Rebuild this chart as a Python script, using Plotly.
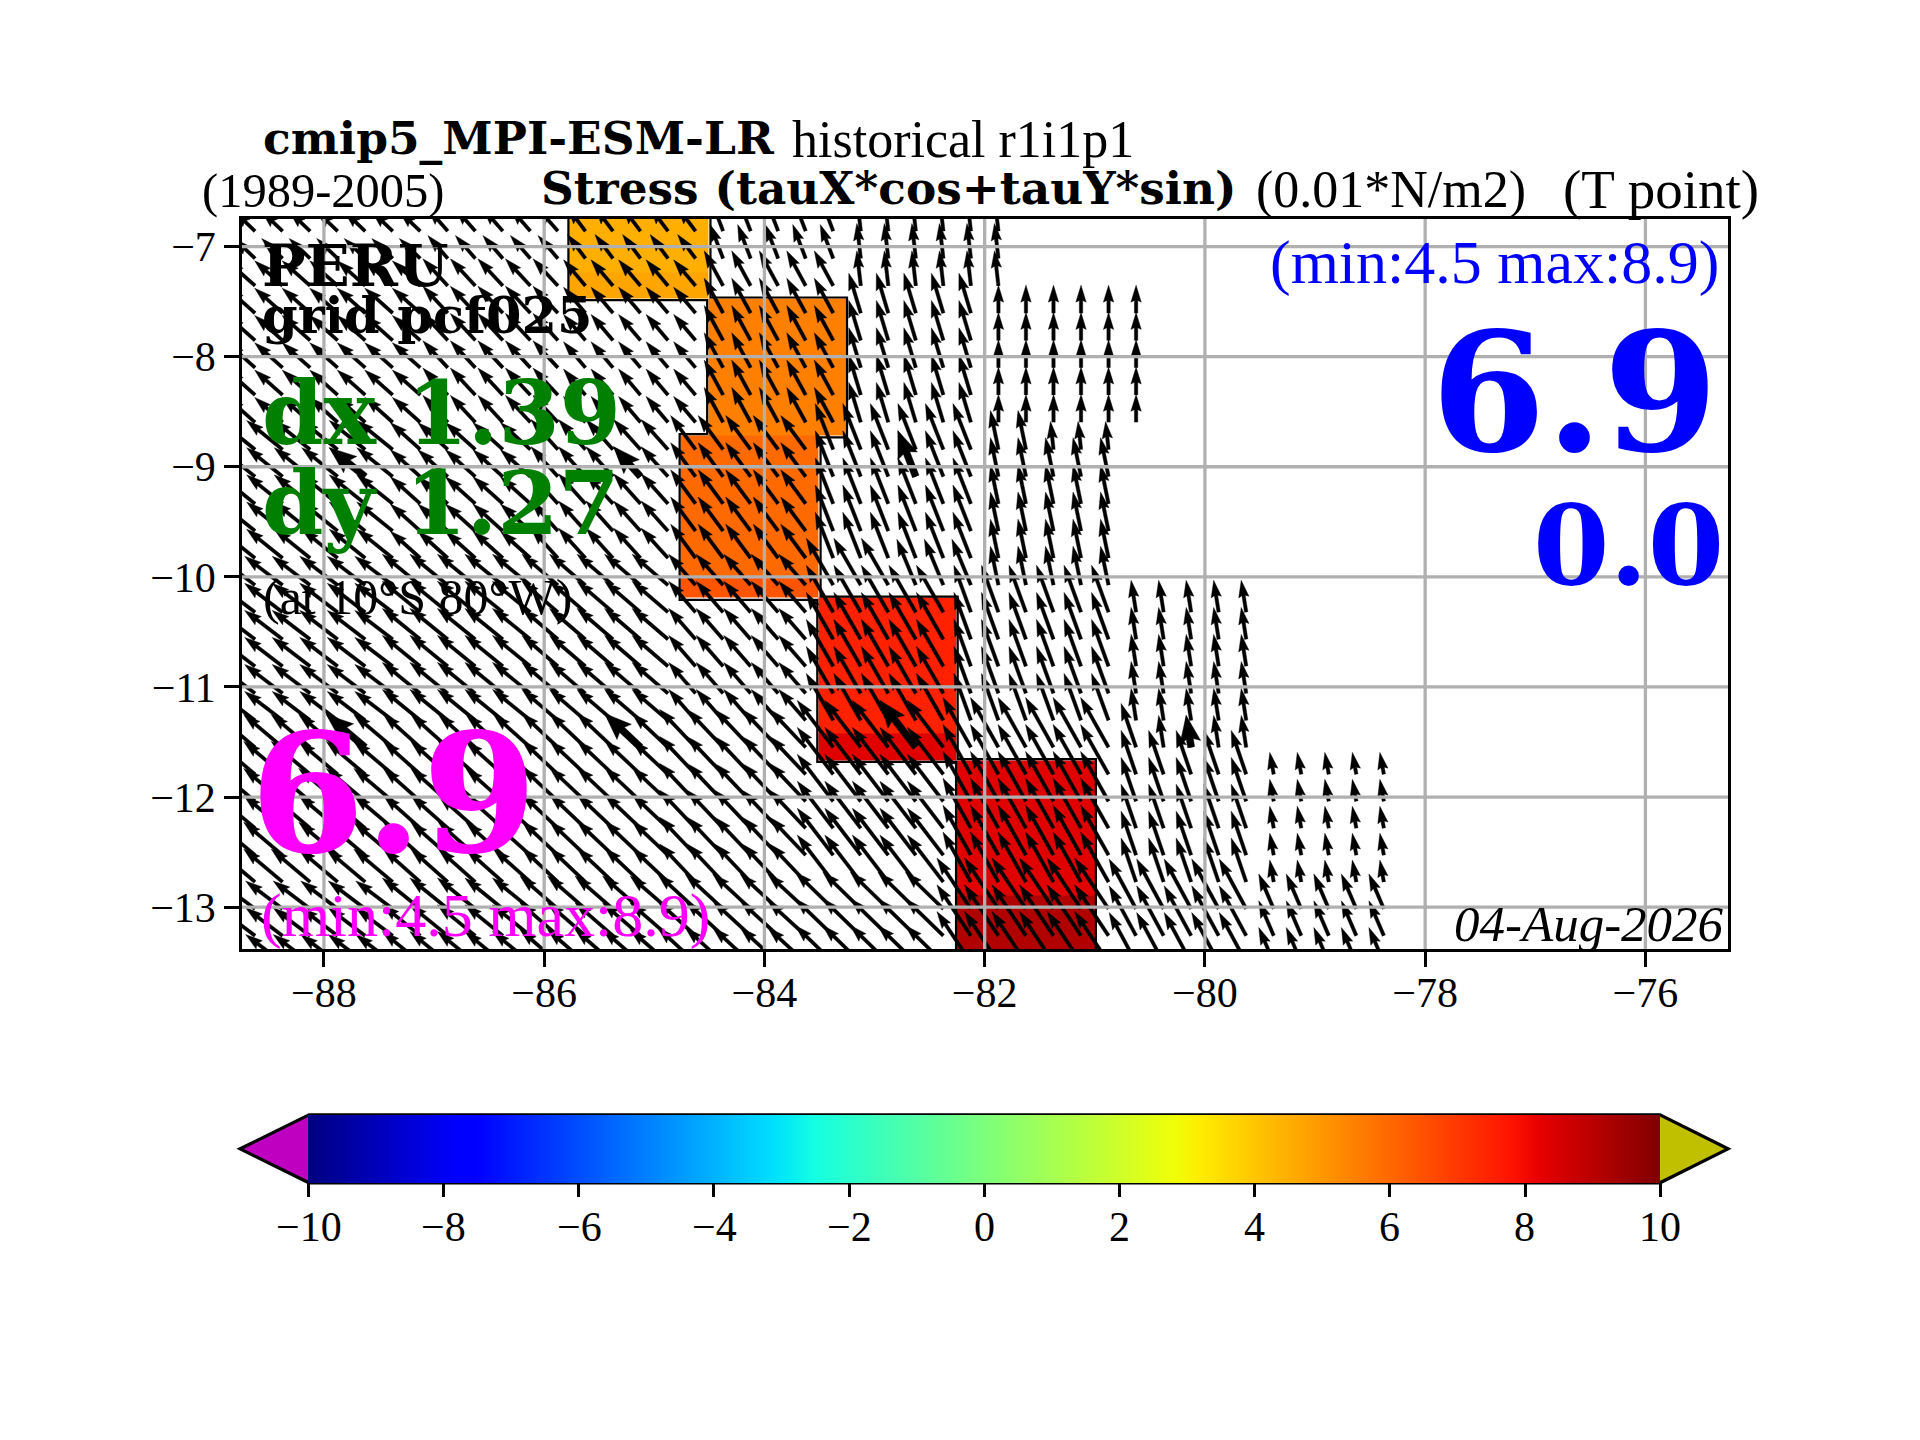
import plotly.graph_objects as go

# ---------- data ----------
tail_lons = [-88.625, -88.375, -88.125, -87.875, -87.625, -87.375, -87.125, -86.875, -86.625, -86.375,
             -86.125, -85.875, -85.625, -85.375, -85.125, -84.875, -84.625, -84.375, -84.125, -83.875,
             -83.625, -83.375, -83.125, -82.875, -82.625, -82.375, -82.125, -81.875, -81.625, -81.375,
             -81.125, -80.875, -80.625, -80.375, -80.125, -79.875, -79.625, -79.375, -79.125, -78.875,
             -78.625, -78.375]
tail_lats = [-13.503, -13.26, -13.016, -12.772, -12.528, -12.283, -12.039, -11.794, -11.549, -11.304,
             -11.059, -10.813, -10.568, -10.322, -10.076, -9.83, -9.584, -9.337, -9.09, -8.844,
             -8.597, -8.349, -8.101, -7.853, -7.605, -7.357, -7.109, -6.861]
last_col_in_row = [41, 41, 41, 41, 41, 41, 41, 41, 36, 36, 36, 36, 36, 36,
                   31, 31, 31, 31, 31, 31, 32, 32, 32, 32, 32, 27, 27, 27]
# (first row, last row, first col, last col, u, v) with v positive northward
vector_blocks = [
    (0, 2, 0, 5, -37, 28), (0, 2, 6, 10, -38, 31), (0, 2, 11, 15, -38, 33), (0, 2, 16, 20, -38, 35),
    (0, 2, 21, 25, -38, 37), (0, 2, 26, 31, -34, 51), (0, 2, 32, 36, -27, 50), (0, 2, 37, 41, -15, 35),
    (3, 8, 0, 5, -39, 33), (3, 8, 6, 10, -37, 33), (3, 8, 11, 15, -36, 34), (3, 8, 16, 20, -36, 38),
    (3, 8, 21, 25, -36, 47), (3, 8, 26, 31, -28, 50), (3, 8, 32, 36, -15, 44), (3, 8, 37, 41, -4, 22),
    (8, 8, 33, 36, -5, 32),
    (9, 14, 0, 5, -38, 29), (9, 14, 6, 10, -38, 31), (9, 14, 11, 15, -36, 31), (9, 14, 16, 20, -27, 31),
    (9, 14, 21, 25, -27, 47), (9, 14, 26, 31, -17, 47), (9, 14, 32, 36, -5, 32),
    (14, 14, 24, 26, -19, 46), (14, 14, 27, 31, -8, 39),
    (15, 19, 0, 5, -36, 29), (15, 19, 6, 10, -30, 27), (15, 19, 11, 15, -27, 30), (15, 19, 16, 20, -25, 34),
    (15, 19, 21, 26, -18, 46), (15, 19, 27, 31, -8, 39), (19, 19, 29, 31, -3, 28),
    (20, 25, 0, 6, -28, 25), (20, 25, 7, 11, -25, 27), (20, 25, 12, 16, -22, 26), (20, 25, 17, 21, -19, 35),
    (20, 25, 22, 26, -12, 40), (20, 25, 27, 32, 0, 28), (25, 25, 22, 27, -4, 35),
    (26, 27, 0, 6, -21, 20), (26, 27, 7, 11, -20, 23), (26, 27, 12, 16, -18, 24), (26, 27, 17, 21, -13, 34),
    (26, 27, 22, 27, -4, 35),
]
thick_rows = [8, 18]
thick_cols = [4, 14, 24, 34]

cell_lon_edges = [-85.78, -84.76, -84.51, -83.51, -83.25, -82.255, -80.99]
cell_lat_edges = [-13.45, -12.89, -11.665, -11.42, -10.19, -9.985, -8.715, -7.47, -7.236, -6.7]
cell_values = [
    [None, None, None, None, None, 9.16],
    [None, None, None, None, None, 8.34],
    [None, None, None, 8.34, 8.34, None],
    [None, None, None, 7.5, 7.5, None],
    [None, 6.4, 6.4, None, None, None],
    [None, 5.96, 5.96, None, None, None],
    [None, None, 5.5, 5.5, None, None],
    [4.7, 4.7, None, None, None, None],
    [4.5, 4.5, None, None, None, None],
]
outline_lons = [-85.78, -84.49, -84.49, -83.25, -83.25, -83.49, -83.49, -82.245, -82.245, -80.99, -80.99,
                -82.26, -82.26, -83.52, -83.52, -84.77, -84.77, -84.52, -84.52, -85.78, -85.78]
outline_lats = [-6.6, -6.6, -7.463, -7.463, -8.733, -8.733, -10.18, -10.18, -11.655, -11.655, -13.6,
                -13.6, -11.68, -11.68, -10.21, -10.21, -8.703, -8.703, -7.487, -7.487, -6.6]

x_ticks = [-88, -86, -84, -82, -80, -78, -76]
y_ticks = [-13, -12, -11, -10, -9, -8, -7]
x_range = [-88.744, -75.25]
y_range = [-13.38, -6.75]
cbar_ticks = [-10, -8, -6, -4, -2, 0, 2, 4, 6, 8, 10]
jet_scale = [[0, "rgb(0,0,128)"], [0.11, "rgb(0,0,255)"], [0.125, "rgb(0,0,255)"], [0.34, "rgb(0,219,255)"],
             [0.35, "rgb(0,230,247)"], [0.375, "rgb(21,255,226)"], [0.64, "rgb(239,255,8)"],
             [0.66, "rgb(255,236,0)"], [0.89, "rgb(255,19,0)"], [0.91, "rgb(232,0,0)"], [1, "rgb(128,0,0)"]]

FONT = "Liberation Serif"
BOLD = "DejaVu Serif"
L, R, T, B = 241.5, 1728, 218.5, 949
PAGE = 8  # the page body adds this margin
PX_PER_DEG = 110.2


def arrow_polygon(lon, lat, u, v, w, hw, hl, na):
    size = (u * u + v * v) ** 0.5
    dx, dy = u / size, v / size
    nx, ny = -dy, dx
    prof = [(0, w / 2), (size - na, w / 2), (size - hl, hw / 2), (size, 0),
            (size - hl, -hw / 2), (size - na, -w / 2), (0, -w / 2)]
    xs, ys = [], []
    for a, b in prof:
        xs.append(lon + (a * dx + b * nx) / PX_PER_DEG)
        ys.append(lat + (a * dy + b * ny) / PX_PER_DEG)
    return xs + [None], ys + [None]


vectors = {}
for r0, r1, c0, c1, u, v in vector_blocks:
    for r in range(r0, r1 + 1):
        for c in range(c0, c1 + 1):
            vectors[(r, c)] = (u, v)

ax, ay, tx, ty = [], [], [], []
for r, lat in enumerate(tail_lats):
    for c, lon in enumerate(tail_lons):
        if c > last_col_in_row[r] or (r, c) not in vectors:
            continue
        u, v = vectors[(r, c)]
        xs, ys = arrow_polygon(lon, lat, u, v, 3.4, 10.4, 17, 15.3)
        ax += xs
        ay += ys
        if r in thick_rows and c in thick_cols:
            xs, ys = arrow_polygon(lon, lat, u, v, 7, 21, 27, 24)
            tx += xs
            ty += ys

fig = go.Figure()


def px_x(p):
    return (p - L) / (R - L)


def px_y(p):
    return (B - p) / (B - T)


fig.add_trace(go.Heatmap(
    x=cell_lon_edges, y=cell_lat_edges, z=cell_values, zmin=-10, zmax=10, colorscale=jet_scale,
    hoverinfo="skip", showscale=True,
    colorbar=dict(orientation="h", lenmode="pixels", len=1352, thicknessmode="pixels", thickness=67.7,
                  x=px_x(984), xanchor="center", y=px_y(1115), yanchor="top",
                  xpad=0, ypad=0, outlinewidth=0, borderwidth=0,
                  tickmode="array", tickvals=cbar_ticks, showticklabels=False,
                  ticks="outside", ticklen=14.6, tickwidth=3.3, tickcolor="black"),
))
fig.add_trace(go.Scatter(x=outline_lons, y=outline_lats, mode="lines",
                         line=dict(color="black", width=2.2), hoverinfo="skip"))
fig.add_trace(go.Scatter(x=ax, y=ay, mode="lines", fill="toself", fillcolor="black",
                         line=dict(color="black", width=0.4), hoverinfo="skip"))
fig.add_trace(go.Scatter(x=tx, y=ty, mode="lines", fill="toself", fillcolor="black",
                         line=dict(color="black", width=0.4), hoverinfo="skip"))
gx, gy = [], []
for t in x_ticks:
    gx += [t, t, None]
    gy += [y_range[0], y_range[1], None]
for t in y_ticks:
    gx += [x_range[0], x_range[1], None]
    gy += [t, t, None]
fig.add_trace(go.Scatter(x=gx, y=gy, mode="lines", line=dict(color="#b0b0b0", width=3.3), hoverinfo="skip"))

texts = [
    ("<b>cmip5_MPI-ESM-LR</b>", 262, 155, "left", 45.5, "black", BOLD),
    ("historical r1i1p1", 791, 153, "left", 52, "black", FONT),
    ("(1989-2005)", 200, 204, "left", 48.5, "black", FONT),
    ("<b>Stress (tauX*cos+tauY*sin)</b>", 540, 205, "left", 45.4, "black", BOLD),
    ("(0.01*N/m2)", 1255, 204, "left", 52, "black", FONT),
    ("(T point)", 1562, 204, "left", 55, "black", FONT),
    ("<b>PERU</b>", 261, 287, "left", 58, "black", BOLD),
    ("<b>grid pcf025</b>", 261, 334, "left", 51, "black", BOLD),
    ("<b>dx 1.39</b>", 261, 445, "left", 88, "#008000", BOLD),
    ("<b>dy 1.27</b>", 261, 535, "left", 88, "#008000", BOLD),
    ("(at 10\u00b0S 80\u00b0W)", 262, 611, "left", 50, "black", FONT),
    ("<b>6.9</b>", 249, 853, "left", 165, "#ff00ff", BOLD),
    ("(min:4.5 max:8.9)", 260, 933, "left", 62, "#ff00ff", FONT),
    ("(min:4.5 max:8.9)", 1720, 279, "right", 62, "#0000ff", FONT),
    ("<b>6.9</b>", 1719, 452, "right", 165, "#0000ff", BOLD),
    ("<b>0.0</b>", 1725, 585, "right", 110, "#0000ff", BOLD),
    ("<i>04-Aug-2026</i>", 1725, 938, "right", 51, "black", FONT),
]
annotations = []
for text, x, base, anchor, size, color, family in texts:
    desc = 0.236 if family == BOLD else 0.296
    annotations.append(dict(
        text=text, xref="paper", yref="paper", x=px_x(x),
        y=px_y(base + desc * size), xanchor=anchor, yanchor="bottom", showarrow=False,
        borderpad=0, font=dict(family=family, size=size, color=color)))
for t in cbar_ticks:
    annotations.append(dict(
        text=str(t).replace("-", "\u2212"), xref="paper", yref="paper",
        x=px_x(308.4 + (t + 10) / 20 * 1351.6), y=px_y(1227), xanchor="center", yanchor="middle",
        showarrow=False, borderpad=0, font=dict(family=FONT, size=42, color="black")))

shapes = []
for base_x, tip_x, col in [(308.4, 239.6, "#c000c0"), (1660, 1728, "#c0c000")]:
    shapes.append(dict(type="path", xref="paper", yref="paper", layer="above", fillcolor=col, line=dict(width=0),
                       path=f"M {px_x(base_x)} {px_y(1115)} L {px_x(tip_x)} {px_y(1149)} L {px_x(base_x)} {px_y(1183)} Z"))
shapes.append(dict(type="path", xref="paper", yref="paper", layer="above", line=dict(color="black", width=3.3),
                   path=(f"M {px_x(308.4)} {px_y(1115)} L {px_x(239.6)} {px_y(1149)} L {px_x(308.4)} {px_y(1183)} "
                         f"L {px_x(1660)} {px_y(1183)} L {px_x(1728)} {px_y(1149)} L {px_x(1660)} {px_y(1115)} Z")))

axis_common = dict(showgrid=False, zeroline=False, showline=True, mirror=True, linecolor="black", linewidth=3.3,
                   ticks="outside", ticklen=14.6, tickwidth=3.3, tickcolor="black", tickmode="array",
                   tickfont=dict(family=FONT, size=42, color="black"))
W, H = 1920 - 2 * PAGE, 1440 - 2 * PAGE
fig.update_layout(
    width=W, height=H, showlegend=False, paper_bgcolor="white", plot_bgcolor="white",
    margin=dict(l=L - PAGE, r=W - (R - PAGE), t=T - PAGE, b=H - (B - PAGE), pad=0, autoexpand=False),
    xaxis=dict(range=x_range, tickvals=x_ticks, ticklabelstandoff=-10, **axis_common),
    yaxis=dict(range=y_range, tickvals=y_ticks, **axis_common),
    annotations=annotations, shapes=shapes,
)
fig.write_html("out.html")
